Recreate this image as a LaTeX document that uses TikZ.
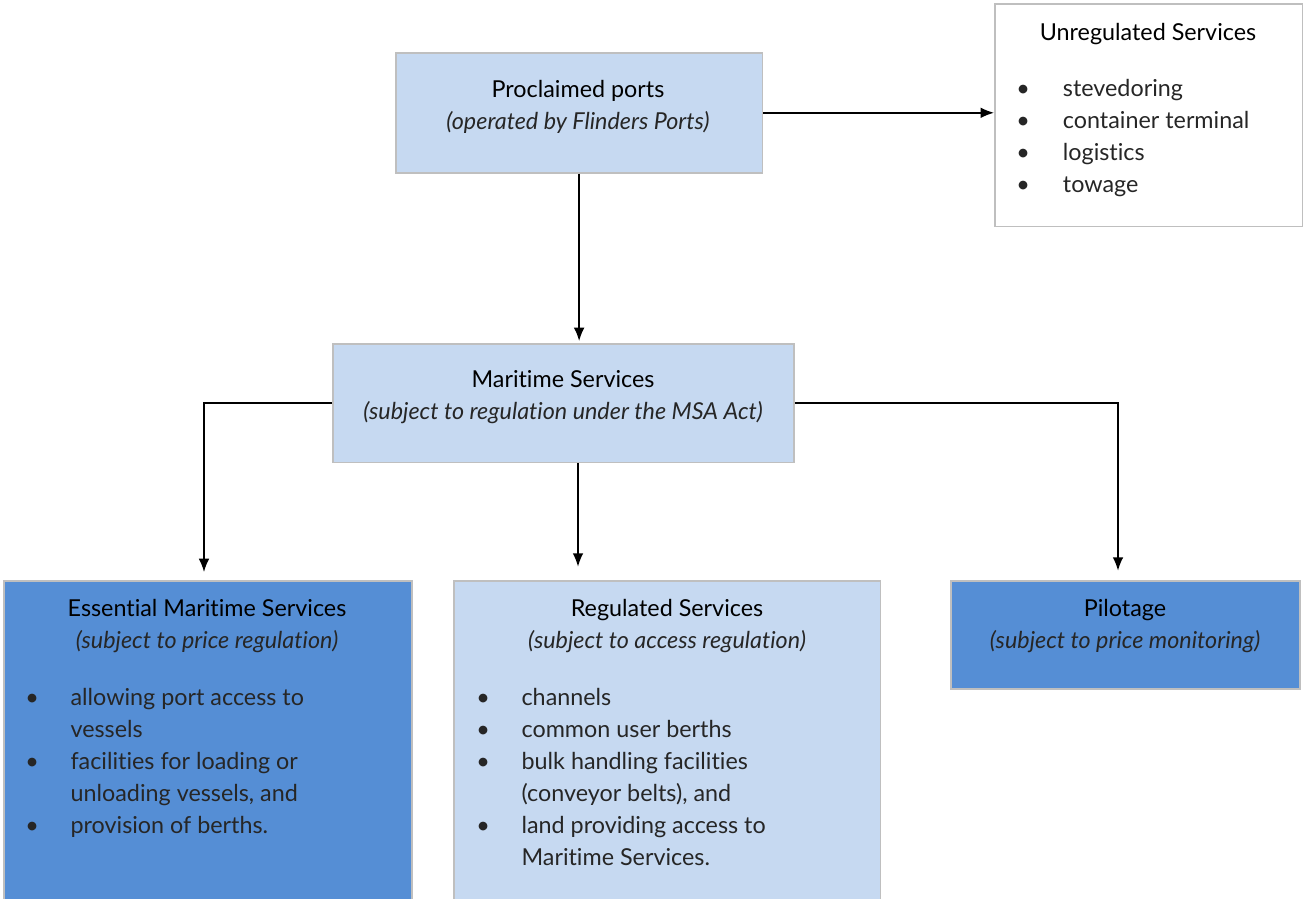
\documentclass[tikz,border=0pt]{standalone}
\usepackage{fontspec}
\setmainfont{Lato}[Ligatures=NoCommon]
\usetikzlibrary{arrows.meta,positioning}
\definecolor{paleblue}{HTML}{C6D9F1}
\definecolor{deepblue}{HTML}{558ED5}
\definecolor{edgegrey}{HTML}{BFBFBF}
\definecolor{inkgrey}{HTML}{262626}
\tikzset{
  box/.style={draw=edgegrey,line width=1.2pt,anchor=north west,inner sep=0pt},
  heading/.style={anchor=base,align=center,inner sep=0pt,font=\fontsize{17.5}{24}\selectfont},
  bullets/.style={anchor=base west,inner sep=0pt,text=inkgrey,font=\fontsize{17.5}{24}\selectfont},
  link/.style={->,line width=1.1pt},
}
\newcommand{\sublabel}[1]{{\itshape\color{inkgrey}#1}}
\begin{document}
\begin{tikzpicture}[x=0.75pt,y=-0.75pt,>={Latex[length=10pt,width=8pt]}]
  \useasboundingbox (0,0) rectangle (1303,899);

  % boxes
  \node[box,fill=paleblue,minimum width=275pt,minimum height=90pt] (ports) at (395,52) {};
  \node[box,fill=white,minimum width=231pt,minimum height=167pt] (unreg) at (994,3) {};
  \node[box,fill=paleblue,minimum width=346pt,minimum height=89pt] (mar) at (332,343) {};
  \node[box,fill=deepblue,minimum width=306pt,minimum height=250pt] (ess) at (3,580) {};
  \node[box,fill=paleblue,minimum width=320pt,minimum height=250pt] (reg) at (453,580) {};
  \node[box,fill=deepblue,minimum width=262pt,minimum height=81pt] (pil) at (950,580) {};

  % headings (base = second line)
  \node[heading] (portsT) at (578,129) {Proclaimed ports\\\sublabel{(operated by Flinders Ports)}};
  \node[heading] (unregT) at (1148,41) {Unregulated Services};
  \node[heading] (marT) at (563,419) {Maritime Services\\\sublabel{(subject to regulation under the MSA Act)}};
  \node[heading] (essT) at (207,648) {Essential Maritime Services\\\sublabel{(subject to price regulation)}};
  \node[heading] (regT) at (667,648) {Regulated Services\\\sublabel{(subject to access regulation)}};
  \node[heading] (pilT) at (1125,648) {Pilotage\\\sublabel{(subject to price monitoring)}};

  % lists
  \node[bullets] (unregL) at (1016,97) {\begin{tabular}[t]{@{}p{35pt}@{}l@{}}
    \textbullet & stevedoring\\
    \textbullet & container terminal\\
    \textbullet & logistics\\
    \textbullet & towage
  \end{tabular}};
  \node[bullets] (essL) at (25,705) {\begin{tabular}[t]{@{}p{34pt}@{}l@{}}
    \textbullet & allowing port access to\\
                & vessels\\
    \textbullet & facilities for loading or\\
                & unloading vessels, and\\
    \textbullet & provision of berths.
  \end{tabular}};
  \node[bullets] (regL) at (476,705) {\begin{tabular}[t]{@{}p{34pt}@{}l@{}}
    \textbullet & channels\\
    \textbullet & common user berths\\
    \textbullet & bulk handling facilities\\
                & (conveyor belts), and\\
    \textbullet & land providing access to\\
                & Maritime Services.
  \end{tabular}};

  % connectors
  \draw[link] (ports.east) -- (ports.east -| unreg.west);
  \draw[link,shorten >=1.5pt] (ports.south) -- (mar.north -| ports.south);
  \draw[link,shorten >=6pt] (mar.west) -| (reg.north -| 204,0);
  \draw[link,shorten >=10pt] (mar.south -| 578,0) -- (reg.north -| 578,0);
  \draw[link,shorten >=7pt] (mar.east) -| (pil.north -| 1118,0);
\end{tikzpicture}
\end{document}
